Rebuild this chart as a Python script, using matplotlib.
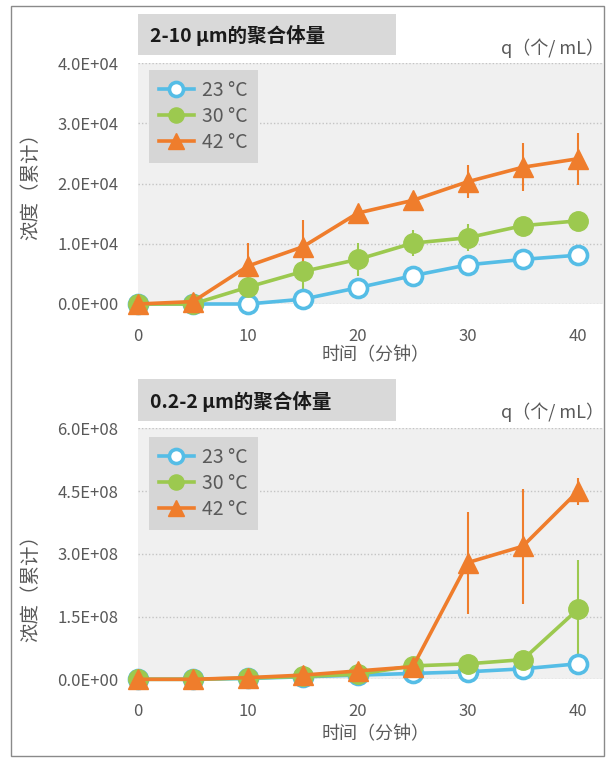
import matplotlib
matplotlib.use('Agg')
import matplotlib.pyplot as plt
from matplotlib.patches import Rectangle
from matplotlib.ticker import FixedLocator, FuncFormatter

plt.rcParams['font.family'] = ['Noto Sans CJK SC', 'DejaVu Sans']

W, H = 614, 758

minutes = [0, 5, 10, 15, 20, 25, 30, 35, 40]
temps = ['23 °C', '30 °C', '42 °C']

# 2-10 um aggregates
large_23 = [0, 0, 0, 800, 2700, 4700, 6500, 7400, 8100]
large_30 = [0, 0, 2800, 5400, 7400, 10100, 11000, 13000, 13800]
large_42 = [0, 400, 6300, 9500, 15100, 17200, 20300, 22700, 24100]
large_30_err = [0, 0, 0, 2900, 2700, 2200, 2200, 0, 0]
large_42_err = [0, 0, 3800, 4400, 0, 0, 2700, 4000, 4300]

# 0.2-2 um aggregates
small_23 = [0, 0, 0.02e8, 0.06e8, 0.10e8, 0.14e8, 0.18e8, 0.25e8, 0.37e8]
small_30 = [0, 0, 0.03e8, 0.07e8, 0.12e8, 0.32e8, 0.37e8, 0.47e8, 1.67e8]
small_42 = [0, 0, 0.04e8, 0.10e8, 0.20e8, 0.30e8, 2.79e8, 3.18e8, 4.49e8]
small_30_err = [0, 0, 0, 0, 0, 0, 0, 0, 1.18e8]
small_42_err = [0, 0, 0, 0, 0, 0, 1.22e8, 1.38e8, 0.32e8]

BLUE = '#55bde6'
GREEN = '#9cc94f'
ORANGE = '#ef7d2c'
TXT = '#595959'


def fx(px):
    return px / W


def fy(py):
    return 1 - py / H


fig = plt.figure(figsize=(W / 100, H / 100), dpi=100)
fig.patch.set_facecolor('white')

# outer frame
fig.add_artist(Rectangle((fx(11), fy(756)), fx(604) - fx(11), fy(6) - fy(756),
                         transform=fig.transFigure, fill=False,
                         edgecolor='#8a8a8a', lw=1.0))


def panel(top_px, bottom_px, box_top, box_bottom, title, title_y, q_y,
          ylabel_y, xlabel_y, ymax, yticks, s23, s30, s42, e30, e42,
          legend_top):
    ax = fig.add_axes([fx(138), fy(bottom_px), fx(603) - fx(138),
                       fy(top_px) - fy(bottom_px)])
    ax.set_facecolor('#f0f0f0')
    for sp in ax.spines.values():
        sp.set_visible(False)
    ax.set_xlim(0, 42.3)
    ax.set_ylim(0, ymax)
    ax.xaxis.set_major_locator(FixedLocator([0, 10, 20, 30, 40]))
    ax.yaxis.set_major_locator(FixedLocator(yticks))
    ax.yaxis.set_major_formatter(FuncFormatter(lambda v, p: '{:.1E}'.format(v)))
    ax.tick_params(length=0, labelsize=12, labelcolor=TXT)
    ax.tick_params(axis='y', pad=14)
    ax.tick_params(axis='x', pad=17)
    ax.yaxis.grid(True, linestyle=(0, (1, 1.5)), color='#c4c4c4', lw=1.0)
    ax.set_axisbelow(True)

    ax.errorbar(minutes, s30, yerr=e30, fmt='none', ecolor=GREEN,
                elinewidth=1.5, capsize=0, zorder=2, clip_on=False)
    ax.errorbar(minutes, s42, yerr=e42, fmt='none', ecolor=ORANGE,
                elinewidth=1.5, capsize=0, zorder=2, clip_on=False)
    ax.plot(minutes, s23, color=BLUE, lw=2.6, marker='o', ms=13,
            mfc='white', mec=BLUE, mew=2.6, label=temps[0], zorder=3,
            clip_on=False)
    ax.plot(minutes, s30, color=GREEN, lw=2.6, marker='o', ms=14,
            mfc=GREEN, mec=GREEN, label=temps[1], zorder=4, clip_on=False)
    ax.plot(minutes, s42, color=ORANGE, lw=2.6, marker='^', ms=14,
            mfc=ORANGE, mec=ORANGE, label=temps[2], zorder=5, clip_on=False)

    anchor = ((149 - 138) / (603 - 138),
              1 - (legend_top - top_px) / (bottom_px - top_px))
    leg = ax.legend(loc='upper left', bbox_to_anchor=anchor,
                    bbox_transform=ax.transAxes, borderaxespad=0,
                    frameon=True, fancybox=False, facecolor='#d6d6d6',
                    edgecolor='#d6d6d6', framealpha=1, fontsize=14,
                    handlelength=1.8, handletextpad=0.45, labelspacing=0.26,
                    borderpad=0.5, markerscale=0.78)
    for t in leg.get_texts():
        t.set_color(TXT)
    leg.get_frame().set_linewidth(0)

    # title box
    fig.add_artist(Rectangle((fx(138), fy(box_bottom)), fx(396) - fx(138),
                             fy(box_top) - fy(box_bottom),
                             transform=fig.transFigure, facecolor='#d9d9d9',
                             edgecolor='none'))
    fig.text(fx(150), fy(title_y), title, fontsize=14, fontweight='bold',
             color='#1a1a1a', ha='left', va='center')
    fig.text(fx(604), fy(q_y), 'q（个/ mL）', fontsize=13, color=TXT,
             ha='right', va='center')
    fig.text(fx(31), fy(ylabel_y), '浓度（累计）', fontsize=14, color=TXT,
             rotation=90, ha='center', va='center')
    fig.text(fx(376), fy(xlabel_y), '时间（分钟）', fontsize=13, color=TXT,
             ha='center', va='center')
    return ax


panel(63, 304, 14, 55, '2-10 μm的聚合体量', 36, 48, 181, 355,
      4e4, [0, 1e4, 2e4, 3e4, 4e4], large_23, large_30, large_42,
      large_30_err, large_42_err, 70)
panel(428.3, 679.3, 379, 421, '0.2-2 μm的聚合体量', 401, 412, 583, 734,
      6e8, [0, 1.5e8, 3e8, 4.5e8, 6e8], small_23, small_30, small_42,
      small_30_err, small_42_err, 437)

fig.savefig('out.png', dpi=100)
